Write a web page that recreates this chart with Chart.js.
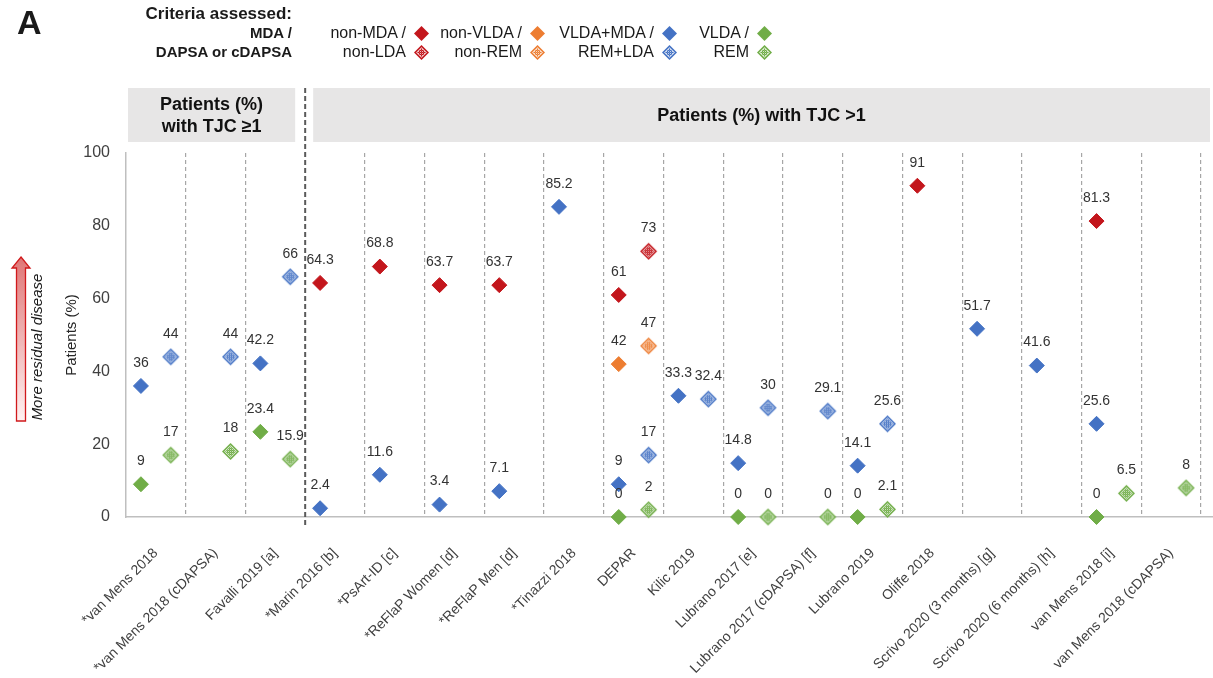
<!DOCTYPE html>
<html><head><meta charset="utf-8">
<script src="https://cdn.jsdelivr.net/npm/chart.js@4.4.1/dist/chart.umd.min.js"></script>
<style>
html,body{margin:0;padding:0;background:#fff;}
#wrap{position:relative;width:1213px;height:678px;overflow:hidden;font-family:"Liberation Sans",Arial,sans-serif;color:#1a1a1a;}
#chart{position:absolute;left:0;top:0;}
.t{position:absolute;white-space:nowrap;line-height:20px;}
.dm{position:absolute;}
</style></head><body>
<div id="wrap">
<canvas id="chart" width="1213" height="678"></canvas>
<div class="t" style="left:17px;top:0px;font-size:34px;font-weight:bold;line-height:44px;">A</div>
<div class="t" style="right:921px;top:4px;font-size:17px;font-weight:bold;">Criteria assessed:</div>
<div class="t" style="right:921px;top:23px;font-size:15px;font-weight:bold;">MDA /</div>
<div class="t" style="right:921px;top:42px;font-size:15px;font-weight:bold;">DAPSA or cDAPSA</div>
<div id="legend"></div>
</div>
<script>
// ---------- data ----------
const categories = [
  "*van Mens 2018", "*van Mens 2018 (cDAPSA)", "Favalli 2019 [a]", "*Marin 2016 [b]",
  "*PsArt-ID [c]", "*ReFlaP Women [d]", "*ReFlaP Men [d]", "*Tinazzi 2018", "DEPAR",
  "Kilic 2019", "Lubrano 2017 [e]", "Lubrano 2017 (cDAPSA) [f]", "Lubrano 2019",
  "Oliffe 2018", "Scrivo 2020 (3 months) [g]", "Scrivo 2020 (6 months) [h]",
  "van Mens 2018 [i]", "van Mens 2018 (cDAPSA)"
];
const nonMDA  = [null,null,null,64.3,68.8,63.7,63.7,null,61,null,null,null,null,91,null,null,81.3,null];
const nonLDA  = [null,null,null,null,null,null,null,null,73,null,null,null,null,null,null,null,null,null];
const nonVLDA = [null,null,null,null,null,null,null,null,42,null,null,null,null,null,null,null,null,null];
const nonREM  = [null,null,null,null,null,null,null,null,47,null,null,null,null,null,null,null,null,null];
const vldaMda = [36,null,42.2,2.4,11.6,3.4,7.1,85.2,9,33.3,14.8,null,14.1,null,51.7,41.6,25.6,null];
const remLda  = [44,44,66,null,null,null,null,null,17,32.4,30,29.1,25.6,null,null,null,null,null];
const vlda    = [9,null,23.4,null,null,null,null,null,0,null,0,null,0,null,null,null,0,null];
const rem     = [17,18,15.9,null,null,null,null,null,2,null,0,0,2.1,null,null,null,6.5,8];
const yTicks  = [0,20,40,60,80,100];
const legendTop    = ["non-MDA /","non-VLDA /","VLDA+MDA /","VLDA /"];
const legendBottom = ["non-LDA","non-REM","REM+LDA","REM"];
const headerLeft  = ["Patients (%)","with TJC \u22651"];
const headerRight = "Patients (%) with TJC >1";
const yTitle = "Patients (%)";
const arrowText = "More residual disease";

// ---------- styles ----------
const RED="#c3161c", ORANGE="#ed7d31", BLUE="#4472c4", GREEN="#70ad47";
const FONT='"Liberation Sans", Arial, sans-serif';
const canvas=document.getElementById('chart');
const cctx=canvas.getContext('2d');

function makeDiamond(color, pat, h){
  const s=Math.ceil(2*h+2), m=s/2;
  const c=document.createElement('canvas'); c.width=s; c.height=s;
  const g=c.getContext('2d');
  const dia=r=>{g.beginPath();g.moveTo(m,m-r);g.lineTo(m+r,m);g.lineTo(m,m+r);g.lineTo(m-r,m);g.closePath();};
  g.fillStyle=color; dia(h); g.fill();
  if(pat){
    g.fillStyle='#fff'; dia(h-2.2); g.fill();
    const t=document.createElement('canvas'); t.width=2; t.height=2;
    const tg=t.getContext('2d');
    tg.fillStyle=color; tg.fillRect(0,0,2,2);
    tg.fillStyle='rgba(255,255,255,0.7)'; tg.fillRect(1,1,1,1);
    tg.fillStyle='rgba(255,255,255,0.2)'; tg.fillRect(0,0,1,1);
    g.fillStyle=g.createPattern(t,'repeat'); dia(h-3); g.fill();
  }
  return c;
}

const series=[
  {label:"non-MDA", data:nonMDA,  color:RED,    pat:false},
  {label:"non-LDA", data:nonLDA,  color:RED,    pat:true},
  {label:"non-VLDA",data:nonVLDA, color:ORANGE, pat:false},
  {label:"non-REM", data:nonREM,  color:ORANGE, pat:true},
  {label:"VLDA+MDA",data:vldaMda, color:BLUE,   pat:false},
  {label:"REM+LDA", data:remLda,  color:BLUE,   pat:true},
  {label:"VLDA",    data:vlda,    color:GREEN,  pat:false},
  {label:"REM",     data:rem,     color:GREEN,  pat:true}
];

// ---------- HTML legend ----------
(function(){
  const lg=document.getElementById('legend');
  const textRight=[406,522,654,749];
  const colors=[RED,ORANGE,BLUE,GREEN];
  for(let k=0;k<4;k++){
    [[legendTop[k],33,false],[legendBottom[k],52,true]].forEach(([txt,cy,pat])=>{
      const d=document.createElement('div'); d.className='t';
      d.style.right=(1213-textRight[k])+'px'; d.style.top=(cy-10)+'px'; d.style.fontSize='16px';
      d.style.color='#1a1a1a'; d.textContent=txt; lg.appendChild(d);
      const cv=makeDiamond(colors[k],pat,7.5);
      const img=document.createElement('img'); img.className='dm'; img.src=cv.toDataURL();
      img.style.left=(textRight[k]+15-cv.width/2)+'px'; img.style.top=(cy-cv.height/2)+'px';
      lg.appendChild(img);
    });
  }
})();

// ---------- plugins ----------
const decor={
  id:'decor',
  beforeDraw(chart){
    const ctx=chart.ctx, xs=chart.scales.x, ca=chart.chartArea;
    const p0=xs.getPixelForValue(0), p3=xs.getPixelForValue(3);
    const rr=Math.min(ca.right,chart.width)-3;
    ctx.save();
    ctx.fillStyle='#e7e6e6';
    ctx.fillRect(p0+2,88,(p3-10)-(p0+2),54);
    ctx.fillRect(p3+8,88,rr-(p3+8),54);
    ctx.fillStyle='#111'; ctx.font='bold 18px '+FONT; ctx.textAlign='center'; ctx.textBaseline='middle';
    const lc=(p0+2+p3-10)/2;
    ctx.fillText(headerLeft[0],lc,105); ctx.fillText(headerLeft[1],lc,127);
    ctx.fillText(headerRight,(p3+8+rr)/2,116);
    // y title
    ctx.save(); ctx.translate(72,335); ctx.rotate(-Math.PI/2);
    ctx.font='15px '+FONT; ctx.fillStyle='#262626'; ctx.fillText(yTitle,0,0); ctx.restore();
    // arrow
    const g=ctx.createLinearGradient(0,257,0,421);
    g.addColorStop(0,'rgba(222,110,110,0.95)'); g.addColorStop(1,'rgba(255,240,240,0.9)');
    ctx.beginPath();
    ctx.moveTo(21,257); ctx.lineTo(30,268); ctx.lineTo(25.5,268); ctx.lineTo(25.5,421);
    ctx.lineTo(16.5,421); ctx.lineTo(16.5,268); ctx.lineTo(12,268); ctx.closePath();
    ctx.fillStyle=g; ctx.fill(); ctx.strokeStyle='#d0191b'; ctx.lineWidth=1.3; ctx.stroke();
    ctx.save(); ctx.translate(38,347); ctx.rotate(-Math.PI/2);
    ctx.font='italic 15px '+FONT; ctx.fillStyle='#1a1a1a'; ctx.fillText(arrowText,0,0); ctx.restore();
    ctx.restore();
  },
  afterDatasetsDraw(chart){
    const ctx=chart.ctx, xs=chart.scales.x, ca=chart.chartArea;
    ctx.save();
    const p3=xs.getPixelForValue(3);
    ctx.strokeStyle='#5a5a5a'; ctx.lineWidth=2; ctx.setLineDash([5,3]);
    ctx.beginPath(); ctx.moveTo(p3,88); ctx.lineTo(p3,ca.bottom+10); ctx.stroke();
    ctx.setLineDash([]);
    ctx.font='14px '+FONT; ctx.fillStyle='#333'; ctx.textAlign='center'; ctx.textBaseline='middle';
    chart.data.datasets.forEach((ds,i)=>{
      const meta=chart.getDatasetMeta(i);
      meta.data.forEach((el,j)=>{ ctx.fillText(String(ds.data[j].y),el.x,el.y-23); });
    });
    ctx.restore();
  }
};

new Chart(cctx,{
  type:'scatter',
  data:{datasets:series.map(s=>({
    label:s.label,
    data:s.data.map((v,i)=>v===null?null:{x:i+(s.pat?0.75:0.25),y:v}).filter(p=>p!==null),
    pointStyle:s.pat?makeDiamond(s.color,true,8.5):'rectRot',
    pointRadius:7.5, pointHoverRadius:7.5, clip:false,
    pointBackgroundColor:s.color, pointBorderColor:s.color, pointBorderWidth:1, showLine:false
  }))},
  options:{
    responsive:false, animation:false, devicePixelRatio:1,
    layout:{autoPadding:false,padding:{top:153,left:0,right:0,bottom:0}},
    plugins:{legend:{display:false},tooltip:{enabled:false}},
    scales:{
      x:{type:'linear',position:'bottom',min:0,max:18.2,
        afterBuildTicks:s=>{s.ticks=categories.map((c,i)=>({value:i+1}));},
        afterFit:s=>{s.height=0; s.paddingLeft=0; s.paddingRight=0;},
        ticks:{display:false},
        grid:{drawTicks:false,color:c=>c.tick&&c.tick.value===3?'rgba(0,0,0,0)':'#a6a6a6',lineWidth:1.2},
        border:{display:true,color:'#bfbfbf',width:1.5,dash:[4,3]}
      },
      x2:{type:'linear',position:'bottom',min:0,max:18.2,
        afterBuildTicks:s=>{s.ticks=categories.map((c,i)=>({value:i+0.5}));},
        afterFit:s=>{s.height=161; s.paddingLeft=0; s.paddingRight=0;},
        ticks:{autoSkip:false,maxRotation:45,minRotation:45,padding:28,color:'#404040',
               font:{family:FONT,size:14},
               callback:(v)=>categories[Math.round(v-0.5)]},
        grid:{display:false,drawTicks:false},
        border:{display:false}
      },
      y:{min:0,max:100,
        afterBuildTicks:s=>{s.ticks=yTicks.map(v=>({value:v}));},
        afterFit:s=>{s.width=126;},
        ticks:{padding:16,color:'#404040',font:{family:FONT,size:16}},
        grid:{display:false,drawTicks:false},
        border:{display:true,color:'#bfbfbf',width:1.5}
      }
    }
  },
  plugins:[decor]
});
</script>
</body></html>
